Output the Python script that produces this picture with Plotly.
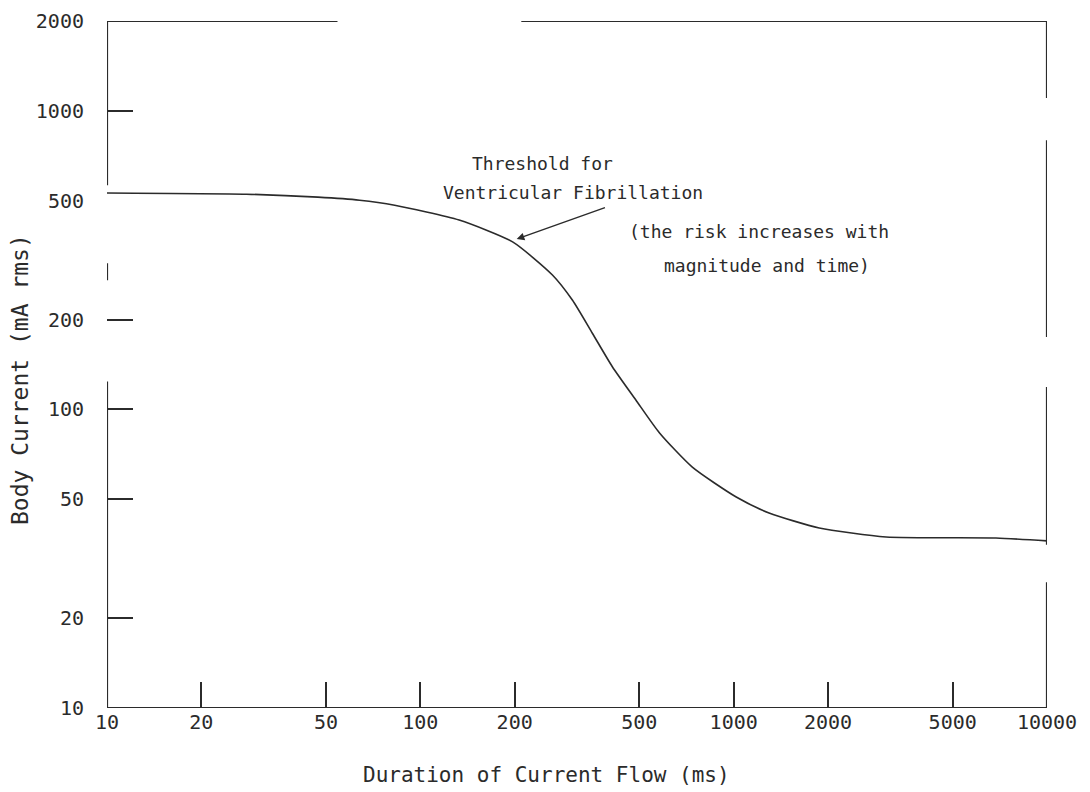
import plotly.graph_objects as go
import math

# Data
duration_ms = [10, 27.9, 47.1, 64, 82.8, 133, 197, 264, 306, 354, 410, 489, 580, 738, 1019, 1297, 1875, 3065, 6870, 10000]
body_current_ma = [531, 526, 514, 502, 483, 431, 364, 282, 232, 180, 139, 107, 83.4, 64.1, 50.9, 45.0, 40.1, 37.4, 37.1, 36.3]

x_ticks = [10, 20, 50, 100, 200, 500, 1000, 2000, 5000, 10000]
x_tick_text = ["10", "20", "50", "100", "200", "500", "1000", "2000", "5000", "10000"]
y_ticks = [10, 20, 50, 100, 200, 500, 1000, 2000]
y_tick_text = ["10", "20", "50", "100", "200", "500", "1000", "2000"]
y_tick_marks = [20, 50, 100, 200, 1000]

INK = "#2b2b2b"
FONT = "DejaVu Sans Mono"

fig = go.Figure()
fig.add_trace(go.Scatter(
    x=duration_ms, y=body_current_ma, mode="lines",
    line=dict(color=INK, width=1.6, shape="spline", smoothing=0.6),
    showlegend=False, hoverinfo="skip",
))
# invisible trace on the secondary y axis (carries the inside tick marks)
fig.add_trace(go.Scatter(x=[10], y=[10], yaxis="y2", mode="markers",
                         marker=dict(opacity=0), showlegend=False, hoverinfo="skip"))

# Frame (with the gaps visible in the scanned original), in data coordinates
frame = [
    (10, 2000, 10, 564), (10, 309, 10, 271), (10, 124, 10, 10),
    (10, 10, 10000, 10),
    (10, 2000, 54.4, 2000), (210, 2000, 10000, 2000),
    (10000, 2000, 10000, 1104), (10000, 798, 10000, 175),
    (10000, 119, 10000, 35.2), (10000, 26.4, 10000, 10),
]
for x0, y0, x1, y1 in frame:
    fig.add_shape(type="line", xref="x", yref="y", x0=x0, y0=y0, x1=x1, y1=y1,
                  line=dict(color=INK, width=2.2), layer="above")

L = math.log10
ann_font = dict(family=FONT, size=18, color=INK)
fig.add_annotation(x=L(245), y=2.825, xref="x", yref="y", text="Threshold for",
                   showarrow=False, font=ann_font, xanchor="center")
fig.add_annotation(x=L(308), y=2.725, xref="x", yref="y", text="Ventricular Fibrillation",
                   showarrow=False, font=ann_font, xanchor="center")
fig.add_annotation(x=L(203), y=L(372), xref="x", yref="y", axref="x", ayref="y",
                   ax=2.594, ay=2.678, text="", showarrow=True,
                   arrowhead=2, arrowsize=1.1, arrowwidth=1.4, arrowcolor=INK)
fig.add_annotation(x=(759 - 107) / 940, y=(708 - 232) / 687, xref="paper", yref="paper",
                   text="(the risk increases with",
                   showarrow=False, font=ann_font, xanchor="center", yanchor="middle")
fig.add_annotation(x=(767 - 107) / 940, y=(708 - 265) / 687, xref="paper", yref="paper",
                   text="magnitude and time)",
                   showarrow=False, font=ann_font, xanchor="center", yanchor="middle")

# Axis titles
fig.add_annotation(x=(546 - 107) / 940, y=(708 - 775) / 687, xref="paper", yref="paper",
                   text="Duration of Current Flow (ms)", showarrow=False,
                   xanchor="center", yanchor="middle",
                   font=dict(family=FONT, size=21, color=INK))
fig.add_annotation(x=(20 - 107) / 940, y=(708 - 380) / 687, xref="paper", yref="paper",
                   text="Body Current (mA rms)", textangle=-90, showarrow=False,
                   xanchor="center", yanchor="middle",
                   font=dict(family=FONT, size=23, color=INK))

fig.update_xaxes(type="log", range=[1, 4], tickvals=x_ticks, ticktext=x_tick_text,
                 ticks="inside", ticklen=26, tickwidth=2, tickcolor=INK,
                 showgrid=False, zeroline=False, showline=False, automargin=False,
                 ticklabelstandoff=0,
                 tickfont=dict(family=FONT, size=20, color=INK))

fig.update_layout(
    width=1090, height=792,
    margin=dict(l=99, r=51, t=13, b=92, autoexpand=False),
    paper_bgcolor="white", plot_bgcolor="white",
    showlegend=False,
    yaxis=dict(type="log", range=[1, L(2000)], tickvals=y_ticks, ticktext=y_tick_text,
               ticks="", showgrid=False, zeroline=False, showline=False, automargin=False,
               ticklabelstandoff=22,
               tickfont=dict(family=FONT, size=20, color=INK)),
    yaxis2=dict(type="log", range=[1, L(2000)], overlaying="y", side="left",
                tickvals=y_tick_marks, showticklabels=False, automargin=False,
                ticks="inside", ticklen=26, tickwidth=2, tickcolor=INK,
                showgrid=False, zeroline=False, showline=False),
)

fig.write_html("out.html")
